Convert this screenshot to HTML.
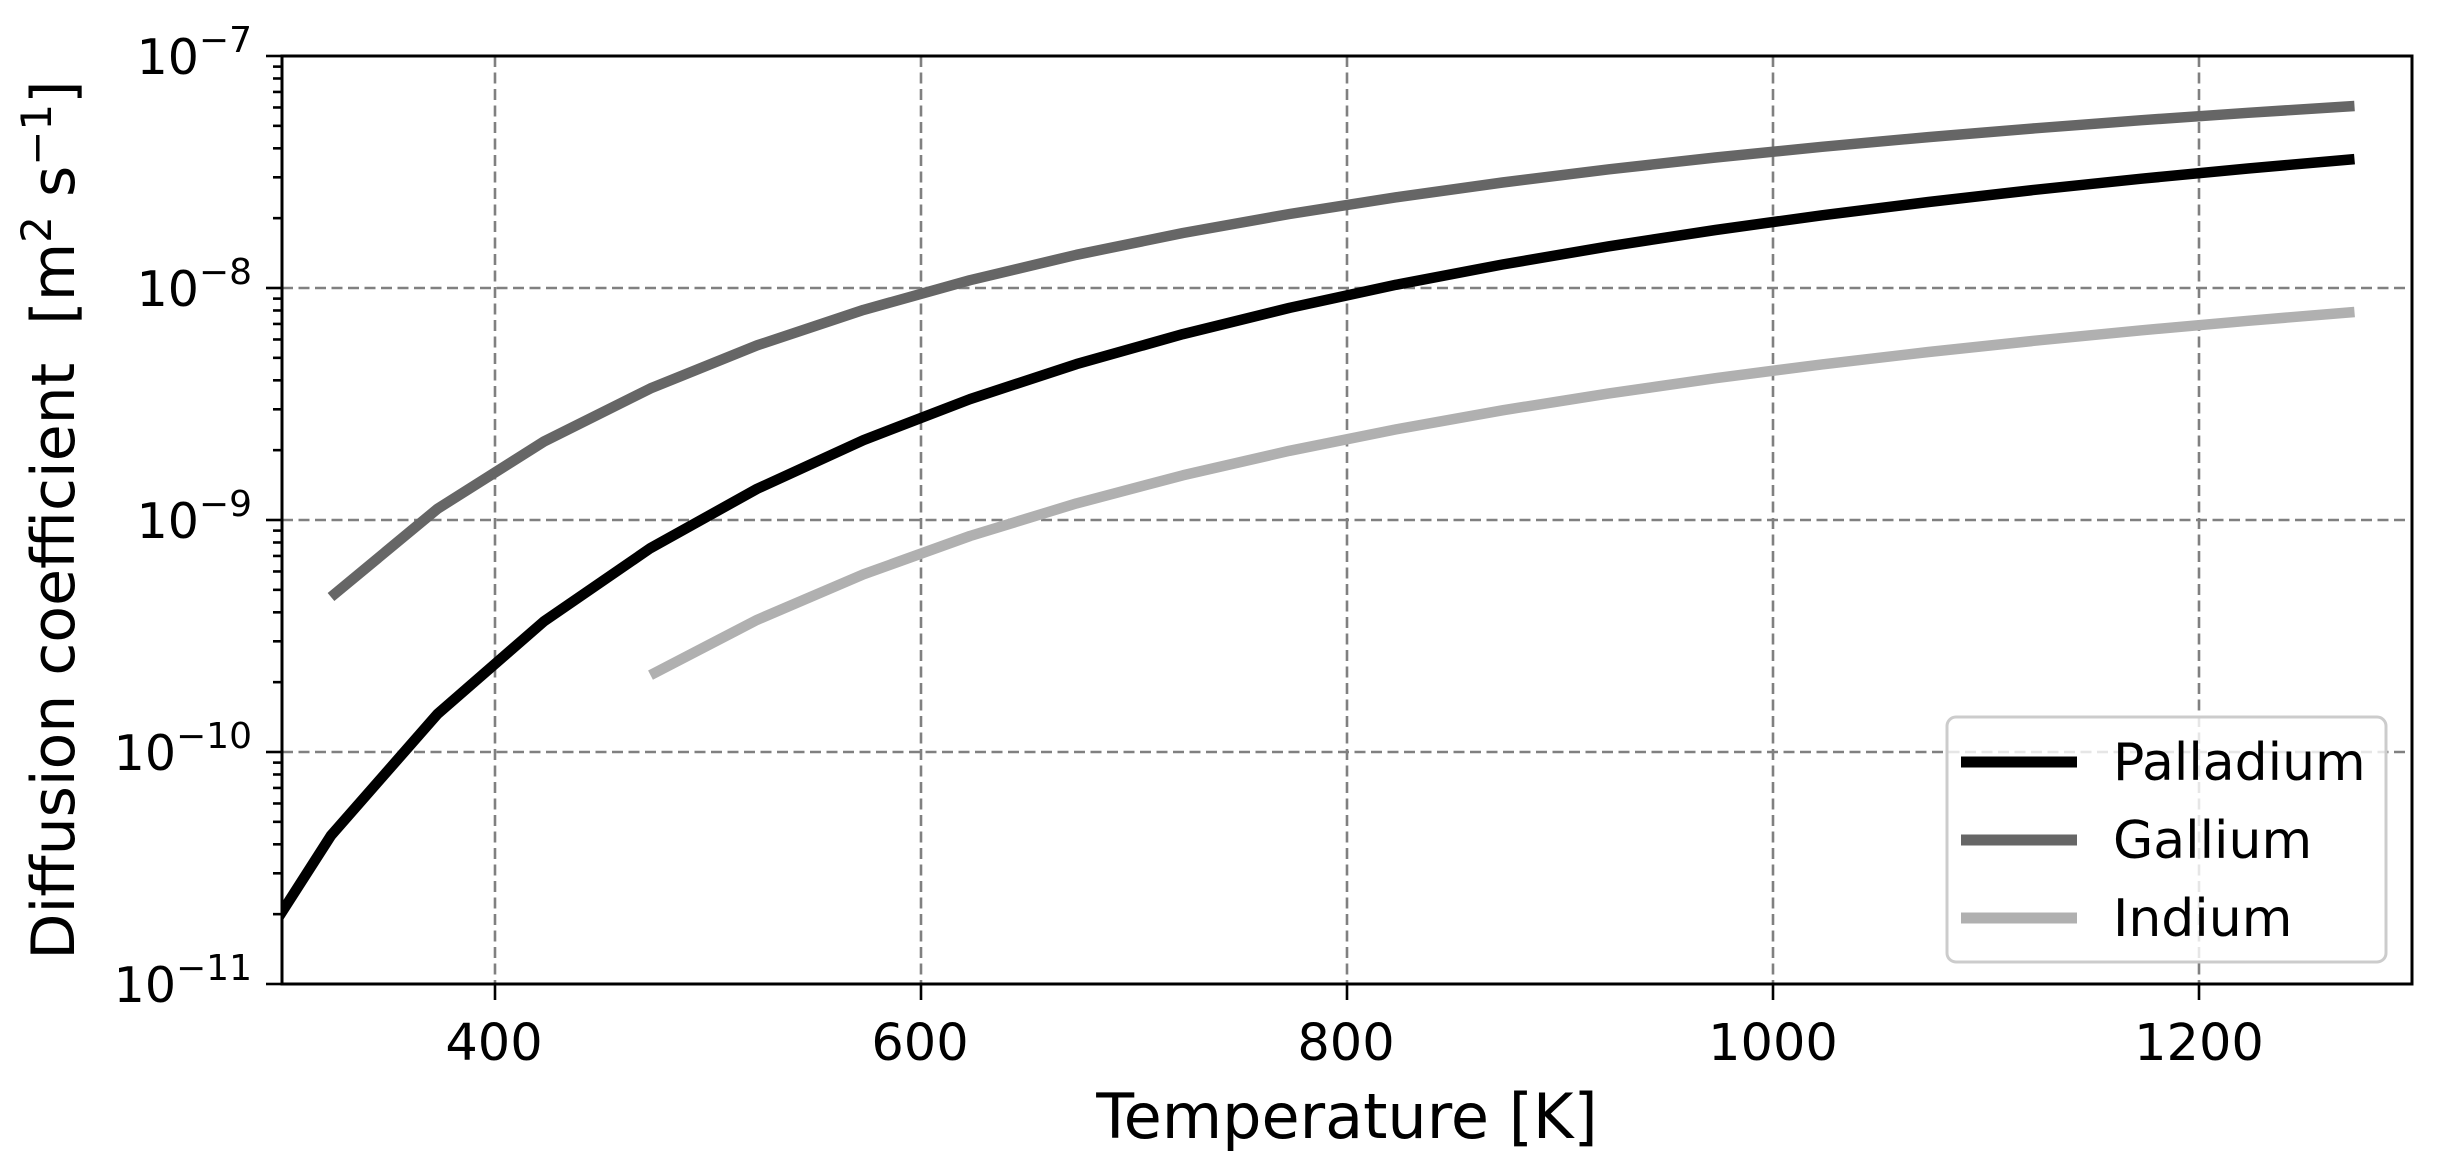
<!DOCTYPE html>
<html><head><meta charset="utf-8">
<style>
html,body{margin:0;padding:0;background:#fff;}
svg{display:block;font-family:"DejaVu Sans","Liberation Sans",sans-serif;}
</style></head>
<body>
<svg id="s" width="2444" height="1157" viewBox="0 0 2444 1157" xmlns="http://www.w3.org/2000/svg">
<rect width="2444" height="1157" fill="#fff"/>
<defs><clipPath id="c"><rect x="282" y="56" width="2130" height="928"/></clipPath></defs>
<g id="grid" stroke="#808080" stroke-width="2.6" stroke-dasharray="11,5.5" fill="none"></g>
<g id="lines" clip-path="url(#c)" fill="none" stroke-linejoin="round" stroke-linecap="butt"></g>
<g id="ticks" stroke="#000" stroke-width="2.6"></g>
<rect x="282" y="56" width="2130" height="928" fill="none" stroke="#000" stroke-width="3"/>
<g font-size="51" fill="#000" text-anchor="middle">
<text x="494" y="1060">400</text>
<text x="920" y="1060">600</text>
<text x="1346" y="1060">800</text>
<text x="1773" y="1060">1000</text>
<text x="2199" y="1060">1200</text>
</g>
<g id="ylab" font-size="49" fill="#000"></g>
<text x="1347" y="1138" font-size="62" text-anchor="middle">Temperature [K]</text>
<text transform="translate(74,520) rotate(-90)" font-size="60" text-anchor="middle">Diffusion coefficient&#160; [m<tspan font-size="42" dy="-23">2</tspan><tspan dy="23"> s</tspan><tspan font-size="42" dy="-23">−1</tspan><tspan dy="23">]</tspan></text>
<rect x="1947" y="717" width="439" height="245" rx="9" fill="#fff" fill-opacity="0.8" stroke="#cccccc" stroke-width="3"/>
<line x1="1961" y1="762" x2="2077" y2="762" stroke="#000" stroke-width="11"/>
<line x1="1961" y1="840" x2="2077" y2="840" stroke="#666" stroke-width="11"/>
<line x1="1961" y1="918" x2="2077" y2="918" stroke="#b0b0b0" stroke-width="11"/>
<g font-size="52" fill="#000">
<text x="2113" y="780">Palladium</text>
<text x="2113" y="858">Gallium</text>
<text x="2113" y="936">Indium</text>
</g>
</svg>
<script>
(function(){
var NS="http://www.w3.org/2000/svg";
function X(T){return 282+(T-300)*2.13;}
function Y(l){return 56+(-7-l)*232;}
function el(p,tag,a){var e=document.createElementNS(NS,tag);for(var k in a)e.setAttribute(k,a[k]);document.getElementById(p).appendChild(e);return e;}
[400,600,800,1000,1200].forEach(function(T){el("grid","line",{x1:X(T),y1:56,x2:X(T),y2:984});
 el("ticks","line",{x1:X(T),y1:984,x2:X(T),y2:1000});});
[-8,-9,-10].forEach(function(l){el("grid","line",{x1:282,y1:Y(l),x2:2412,y2:Y(l)});});
for(var d=-11;d<=-7;d++){
 el("ticks","line",{x1:266,y1:Y(d),x2:282,y2:Y(d)});
 if(d<-7)for(var m=2;m<=9;m++){var yy=Y(d+Math.log10(m));el("ticks","line",{x1:273,y1:yy,x2:282,y2:yy});}
 var t=el("ylab","text",{x:252,y:Y(d)+18,"text-anchor":"end"});
 t.textContent="10";
 var s=document.createElementNS(NS,"tspan");s.setAttribute("font-size","36");s.setAttribute("dy","-22");s.textContent="−"+(-d);t.appendChild(s);
}
function series(A,B,T0,col){var p=[];for(var T=T0;T<=1273.1;T+=50){p.push(X(T).toFixed(1)+","+Y(A-B/T).toFixed(1));}
 el("lines","polyline",{points:p.join(" "),stroke:col,"stroke-width":"10.5"});}
series(-6.496,916,323,"#666666");
series(-7.178,1178,473,"#b0b0b0");
series(-6.453,1262,273,"#000000");
})();
</script>
</body></html>
